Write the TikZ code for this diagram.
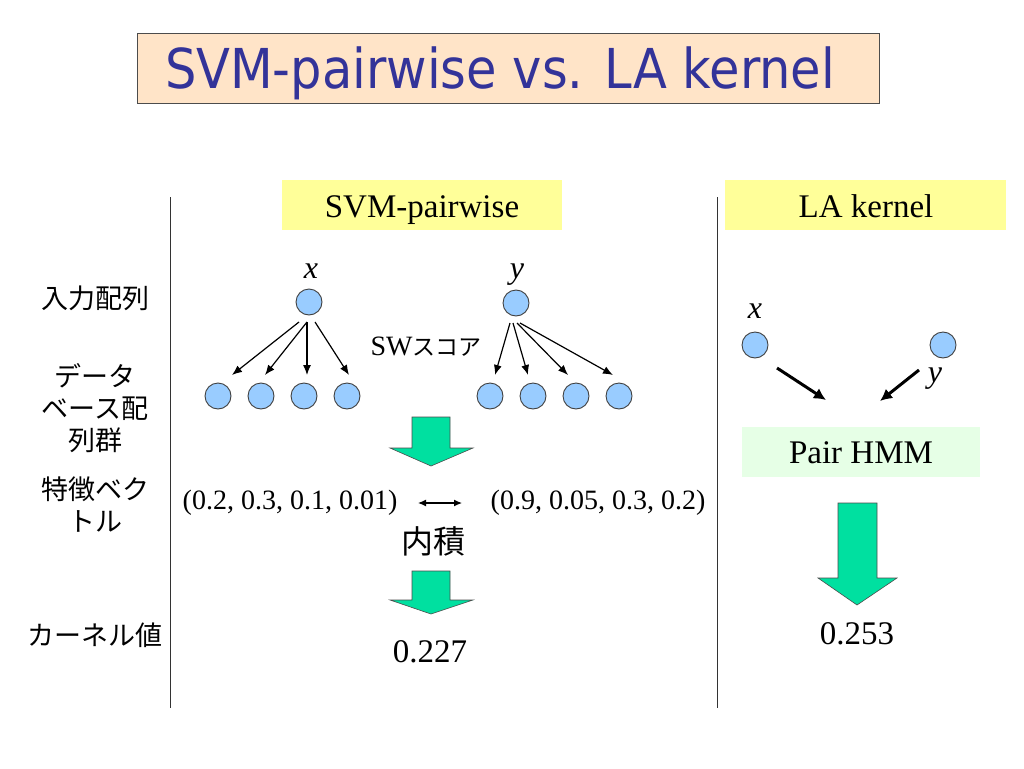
\documentclass[tikz,border=0pt]{standalone}
\usepackage{fontspec}
\setmainfont{Liberation Serif}
\newfontfamily\jpfont{Noto Sans CJK JP}
\newfontfamily\titlefont{DejaVu Sans Condensed}
\usetikzlibrary{arrows.meta,calc}
\definecolor{titlebg}{RGB}{255,228,200}
\definecolor{titleblue}{RGB}{51,51,153}
\definecolor{headyellow}{RGB}{255,255,153}
\definecolor{nodeblue}{RGB}{153,204,255}
\definecolor{arrowgreen}{RGB}{0,224,160}
\definecolor{hmmgreen}{RGB}{230,255,230}
\tikzset{
  seqnode/.style={circle, draw=black!75, fill=nodeblue, line width=0.9pt, minimum size=26pt, inner sep=0pt},
  arr/.style={-{Latex[length=10pt,width=8pt]}, line width=1.2pt},
  bigarr/.style={-{Latex[length=12pt,width=12pt]}, line width=3pt},
  blockarrow/.style={fill=arrowgreen, draw=black!70, line width=0.6pt},
  headbox/.style={fill=headyellow, minimum width=280pt, minimum height=50pt, inner sep=0pt},
  divider/.style={draw=black!80, line width=1pt},
  serif/.style={font=\fontsize{33}{38}\selectfont},
  vec/.style={font=\fontsize{28}{32}\selectfont, anchor=base},
  jplabel/.style={font=\jpfont\fontsize{27}{32}\selectfont, align=center, inner sep=0pt},
  varlabel/.style={font=\fontsize{32}{36}\selectfont\itshape, anchor=base}
}
\begin{document}
\begin{tikzpicture}[x=1pt,y=-1pt]
\useasboundingbox (0,0) rectangle (1024,768);
\fill[white] (0,0) rectangle (1024,768);
% title
\node[draw=black!70, fill=titlebg, line width=0.8pt, minimum width=742pt, minimum height=70pt, inner sep=0pt] (titlebox) at (508,68) {};
\node[anchor=base, text=titleblue, font=\titlefont\fontsize{55}{60}\selectfont, inner sep=0pt] (title) at (500,88) {SVM-pairwise vs. LA kernel};
% dividers
\draw[divider] (170,197) -- (170,708);
\draw[divider] (717,197) -- (717,708);
% column heads
\node[headbox] (svmhead) at (422,205) {};
\node[serif, anchor=base, inner sep=0pt] (svmheadtext) at (422,217) {SVM-pairwise};
\node[headbox, minimum width=281pt] (lahead) at (865.5,205) {};
\node[serif, anchor=base, inner sep=0pt] (laheadtext) at (866,217) {LA kernel};
% left labels
\node[jplabel] (lab1) at (95,298) {入力配列};
\node[jplabel] (lab2) at (95,408) {データ\\ベース配\\列群};
\node[jplabel] (lab3) at (95,505) {特徴ベク\\トル};
\node[jplabel] (lab4) at (95,635) {カーネル値};
% left tree
\node[varlabel] (xl) at (311,278) {x};
\node[seqnode] (lr) at (309,302) {};
\node[seqnode] (lc1) at (218,396) {};
\node[seqnode] (lc2) at (261,396) {};
\node[seqnode] (lc3) at (304,396) {};
\node[seqnode] (lc4) at (347,396) {};
\draw[arr] ([shift={(-10,20)}]lr.center) -- ([shift={(14,-21)}]lc1.center);
\draw[arr] ([shift={(-2,20)}]lr.center) -- ([shift={(4,-21)}]lc2.center);
\draw[arr] ([shift={(-2,20)}]lr.center) -- ([shift={(3,-21)}]lc3.center);
\draw[arr] ([shift={(6,20)}]lr.center) -- ([shift={(2,-21)}]lc4.center);
% right tree
\node[varlabel] (yl) at (517,278) {y};
\node[seqnode] (rr) at (516,303) {};
\node[seqnode] (rc1) at (490,396) {};
\node[seqnode] (rc2) at (533,396) {};
\node[seqnode] (rc3) at (576,396) {};
\node[seqnode] (rc4) at (619,396) {};
\draw[arr] ([shift={(-6,20)}]rr.center) -- ([shift={(5,-21)}]rc1.center);
\draw[arr] ([shift={(-3,20)}]rr.center) -- ([shift={(-5,-21)}]rc2.center);
\draw[arr] ([shift={(1,20)}]rr.center) -- ([shift={(-8,-21)}]rc3.center);
\draw[arr] ([shift={(4,20)}]rr.center) -- ([shift={(-6,-21)}]rc4.center);
\node[anchor=base, inner sep=0pt, font=\fontsize{28}{32}\selectfont] (sw) at (426,355) {SW{\jpfont\fontsize{23}{28}\selectfont スコア}};
% block arrow 1
\draw[blockarrow] (412,417) -- (450,417) -- (450,448) -- (473,448) -- (431,466) -- (390,448) -- (412,448) -- cycle;
% vectors
\node[vec, inner sep=0pt] (v1) at (290,509) {(0.2, 0.3, 0.1, 0.01)};
\node[vec, inner sep=0pt] (v2) at (598,509) {(0.9, 0.05, 0.3, 0.2)};
\coordinate (da1) at (418,503);
\coordinate (da2) at (462,503);
\draw[{Latex[length=8pt,width=7pt]}-{Latex[length=8pt,width=7pt]}, line width=1.2pt] (da1) -- (da2);
\node[anchor=base, inner sep=0pt, font=\jpfont\fontsize{32}{36}\selectfont] (dot) at (433,553) {内積};
% block arrow 2
\draw[blockarrow] (412,571) -- (450,571) -- (450,600) -- (473,600) -- (431,614) -- (390,600) -- (412,600) -- cycle;
\node[serif, anchor=base, inner sep=0pt] (k1) at (430,662) {0.227};
% right panel
\node[varlabel] (xr) at (755,318) {x};
\node[seqnode] (px) at (755,345) {};
\node[seqnode] (py) at (943,345) {};
\node[varlabel] (yr) at (935,382) {y};
\node[fill=hmmgreen, minimum width=238pt, minimum height=50pt, inner sep=0pt] (hmm) at (861,452) {};
\node[serif, anchor=base, inner sep=0pt] (hmmtext) at (861,463) {Pair HMM};
\draw[bigarr] ([shift={(22,23)}]px.center) -- ([shift={(-35,-52)}]hmm.center);
\draw[bigarr] ([shift={(-24,25)}]py.center) -- ([shift={(19,-51)}]hmm.center);
% block arrow 3
\draw[blockarrow] (838,503) -- (877,503) -- (877,578) -- (897,578) -- (857,605) -- (818,578) -- (838,578) -- cycle;
\node[serif, anchor=base, inner sep=0pt] (k2) at (857,644) {0.253};
\end{tikzpicture}
\end{document}
